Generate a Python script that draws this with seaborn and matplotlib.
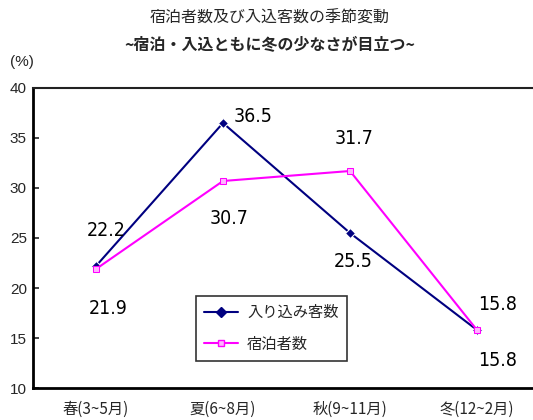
import matplotlib
matplotlib.use("Agg")
import matplotlib.pyplot as plt
import seaborn as sns
import pandas as pd

seasons = ["春(3~5月)", "夏(6~8月)", "秋(9~11月)", "冬(12~2月)"]
visitors = [22.2, 36.5, 25.5, 15.8]
lodgers = [21.9, 30.7, 31.7, 15.8]
series_names = ["入り込み客数", "宿泊者数"]
title1 = "宿泊者数及び入込客数の季節変動"
title2 = "~宿泊・入込ともに冬の少なさが目立つ~"

sns.set_style("white")
plt.rcParams['font.family'] = ['Noto Sans CJK JP', 'DejaVu Sans']

df = pd.DataFrame({
    "season": seasons * 2,
    "value": visitors + lodgers,
    "series": [series_names[0]] * 4 + [series_names[1]] * 4,
})

fig = plt.figure(figsize=(5.33, 4.2), dpi=100)
ax = fig.add_axes([32.5 / 533, 32 / 420, 508 / 533, 300 / 420])

palette = {series_names[0]: "#000080", series_names[1]: "#ff00ff"}
markers = {series_names[0]: "D", series_names[1]: "s"}
sns.lineplot(data=df, x="season", y="value", hue="series", style="series",
             palette=palette, markers=markers, dashes=False, sort=False,
             linewidth=1.5, markersize=5, ax=ax, legend=False)

for ln in ax.lines:
    if ln.get_marker() == "s":
        ln.set_markerfacecolor("#ffb3ff")
        ln.set_markeredgecolor("#ff00ff")

ax.set_xlim(-0.5, 3.5)
ax.set_ylim(10, 40)
ax.set_yticks(range(10, 41, 5))
ax.set_xticks(range(4))
ax.set_xticklabels(seasons, fontsize=11)
ax.set_xticks([0.5, 1.5, 2.5], minor=True)
ax.tick_params(axis="x", which="major", length=0, pad=9)
ax.tick_params(axis="x", which="minor", direction="in", length=5, width=1.2, color="black")
ax.tick_params(axis="y", direction="in", length=4, width=1.2, labelsize=11, pad=4, left=True)
for lab in ax.get_yticklabels():
    lab.set_fontfamily(['Liberation Sans', 'DejaVu Sans'])
ax.set_xlabel("")
ax.set_ylabel("")

for s in ["left", "bottom"]:
    ax.spines[s].set_linewidth(2)
    ax.spines[s].set_color("black")
ax.spines["top"].set_linewidth(1.5)
ax.spines["top"].set_color("#222222")
ax.spines["right"].set_visible(False)

label_font = dict(fontsize=14, family=['DejaVu Sans'], fontstretch="condensed",
                  ha="center", va="center", color="black")
vis_offsets = [(10, 35), (30, 6), (3, -29), (21, -31)]
lod_offsets = [(12, -39), (6, -38), (4, 32), (21, 25)]
for i, v in enumerate(visitors):
    ax.annotate(f"{v}", (i, v), xytext=vis_offsets[i], textcoords="offset pixels", **label_font)
for i, v in enumerate(lodgers):
    ax.annotate(f"{v}", (i, v), xytext=lod_offsets[i], textcoords="offset pixels", **label_font)

fig.text(270 / 533, 1 - 18 / 420, title1, ha="center", va="center", fontsize=11.5)
fig.text(270 / 533, 1 - 45 / 420, title2, ha="center", va="center", fontsize=11.5, fontweight="bold")
fig.text(22 / 533, 1 - 62 / 420, "(%)", ha="center", va="center", fontsize=11,
         family=['Liberation Sans', 'DejaVu Sans'])

from matplotlib.lines import Line2D
handles = [
    Line2D([], [], color="#000080", marker="D", markersize=5, linewidth=1.5),
    Line2D([], [], color="#ff00ff", marker="s", markersize=5, linewidth=1.5,
           markerfacecolor="#ffb3ff", markeredgecolor="#ff00ff"),
]
leg = ax.legend(handles, series_names, loc="lower left",
                bbox_to_anchor=((196 - 32.5) / 508, (388 - 361) / 300),
                fontsize=11, frameon=True, fancybox=False, edgecolor="black",
                handlelength=2.2, borderpad=0.55, labelspacing=0.95, borderaxespad=0,
                handletextpad=0.6)
leg.get_frame().set_linewidth(1.2)

fig.savefig("out.png", dpi=100)
